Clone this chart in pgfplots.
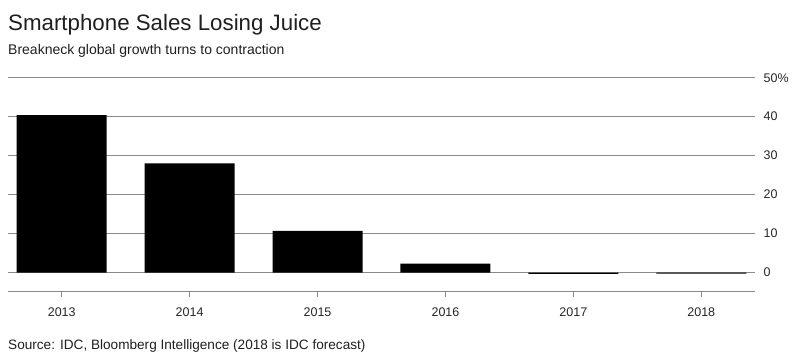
\documentclass[border=0pt]{standalone}
\usepackage{pgfplots}
\pgfplotsset{compat=1.18}
\usepackage{fontspec}
\setmainfont{Liberation Sans}
\definecolor{gridgray}{HTML}{8A8A8A}
\begin{document}
\begin{tikzpicture}
\begin{axis}[
  scale only axis, width=747pt, height=214.3pt,
  xmin=-0.42, xmax=5.42, ymin=-5, ymax=50,
  axis y line=none,
  axis x line*=bottom,
  x axis line style={gridgray, line width=1pt, -},
  xtick={0,1,2,3,4,5},
  xticklabels={2013,2014,2015,2016,2017,2018},
  xtick style={gridgray, line width=0.8pt},
  major tick length=5pt,
  xtick align=outside,
  xticklabel style={font=\fontsize{12.5}{14}\selectfont, text=black!85, yshift=-7pt},
  ytick=\empty,
  clip=false,
]
\path ([xshift=-8pt,yshift=-69pt]rel axis cs:0,0) rectangle ([xshift=45pt,yshift=77.7pt]rel axis cs:1,1);
\node[anchor=base west, inner sep=0pt, font=\fontsize{22.3}{26}\selectfont, text=black!88] at ([yshift=261.5pt]rel axis cs:0,0) {Smartphone Sales Losing Juice};
\node[anchor=base west, inner sep=0pt, font=\fontsize{14}{16}\selectfont, text=black!88] at ([yshift=237.7pt]rel axis cs:0,0) {Breakneck global growth turns to contraction};
\node[anchor=base west, inner sep=0pt, font=\fontsize{13.6}{16}\selectfont, text=black!88] at ([yshift=-57.5pt]rel axis cs:0,0) {Source: IDC, Bloomberg Intelligence (2018 is IDC forecast)};
\pgfplotsinvokeforeach{0,10,20,30,40}{
  \draw[gridgray, line width=1pt] (axis cs:-0.42,#1) -- (axis cs:5.42,#1);
  \node[anchor=west, inner sep=0pt, font=\fontsize{12.5}{14}\selectfont, text=black!85] at ([xshift=8.5pt]axis cs:5.42,#1) {#1};
}
\draw[gridgray, line width=1pt] (axis cs:-0.42,50) -- (axis cs:5.42,50);
\node[anchor=west, inner sep=0pt, font=\fontsize{12.5}{14}\selectfont, text=black!85] at ([xshift=8.5pt]axis cs:5.42,50) {50\%};
\addplot[ybar, bar width=90pt, fill=black, draw=none, bar shift=0pt] coordinates {
  (0,40.4) (1,28.0) (2,10.7) (3,2.3) (4,-0.35) (5,-0.3)
};
\end{axis}
\end{tikzpicture}
\end{document}
